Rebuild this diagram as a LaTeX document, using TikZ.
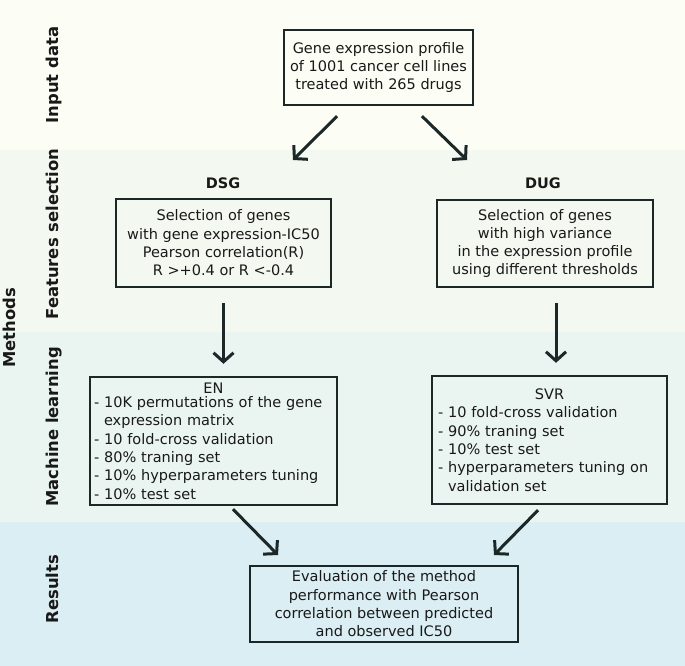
\documentclass[tikz,border=0pt]{standalone}
\usepackage{xcolor}
\usepackage{fontspec}
\setmainfont{DejaVu Sans}
\newfontfamily\headfont{DejaVu Sans}
\usepackage{tikz}
\usetikzlibrary{positioning, arrows.meta, calc}

\definecolor{inputbg}{RGB}{252,253,244}
\definecolor{featbg}{RGB}{243,249,240}
\definecolor{mlbg}{RGB}{234,245,241}
\definecolor{resbg}{RGB}{218,238,243}
\definecolor{dark}{RGB}{28,40,40}
\definecolor{ink}{RGB}{25,25,25}

\begin{document}
\begin{tikzpicture}[x=1pt, y=-1pt,
		box/.style={draw=dark, line width=2.4pt, inner sep=0pt, align=center, text=ink,
			font=\fontsize{14.5}{18.3}\selectfont},
		head/.style={font=\headfont\bfseries\fontsize{14.5}{16}\selectfont, text=ink},
		side/.style={font=\headfont\bfseries\fontsize{16.4}{18}\selectfont, rotate=90, anchor=base, text=ink},
		arr/.style={draw=dark, line width=3pt, -{Straight Barb[length=9pt,width=20pt]}}]
		
		\useasboundingbox (0,0) rectangle (685,666);
		
		%% bands
		\foreach \ya/\yb/\col in {0/150/inputbg, 150/332/featbg, 332/522/mlbg, 522/666/resbg}
		\fill[\col] (0,\ya) rectangle (685,\yb);
		
		\node[side] (inlabel) at (58,75) {Input data};
		\node[side] (featlabel) at (58,234) {Features selection};
		\node[side] (mllabel) at (58,427) {Machine learning};
		\node[side] (reslabel) at (58,589) {Results};
		\node[side] (methlabel) at (15,328) {Methods};
		
		\node[box, minimum width=189pt, minimum height=75pt] (input) at (378.5,67.5)
		{Gene expression profile\\of 1001 cancer cell lines\\treated with 265 drugs};
		
		\node[head] (dsglabel) at (223,183) {DSG};
		\node[box, minimum width=215pt, minimum height=88pt] (dsg) at (223.5,243)
		{Selection of genes\\with gene expression-IC50\\Pearson correlation(R)\\R >+0.4 or R <-0.4};
		
		\node[head] (duglabel) at (543,183) {DUG};
		\node[box, minimum width=216pt, minimum height=87pt] (dug) at (545,243.5)
		{Selection of genes\\with high variance\\in the expression profile\\using different thresholds};
		
		\node[box, minimum width=247pt, minimum height=128pt, text width=239pt, align=left] (en) at (213.5,441)
		{\makebox[\linewidth]{EN}\\[-4pt]
			- 10K permutations of the gene\\
			\phantom{- }expression matrix\\
			- 10 fold-cross validation\\
			- 80\% traning set\\
			- 10\% hyperparameters tuning\\
			- 10\% test set};
		
		\node[box, minimum width=235pt, minimum height=128pt, text width=223pt, align=left] (svr) at (549.5,440)
		{\makebox[\linewidth]{SVR}\\
			- 10 fold-cross validation\\
			- 90\% traning set\\
			- 10\% test set\\
			- hyperparameters tuning on\\
			\phantom{- }validation set};
		
		\node[box, minimum width=268pt, minimum height=76pt] (result) at (384,604)
		{Evaluation of the method\\performance with Pearson\\correlation between predicted\\and observed IC50};
		
		\coordinate (ltip) at (293,160);
		\coordinate (rtip) at (467,160);
		\coordinate (entip) at (278,555);
		\coordinate (svrtip) at (494,555);
		
		\draw[arr] ([xshift=-41.5pt,yshift=-10pt]input.south) -- (ltip);
		\draw[arr] ([xshift=43.5pt,yshift=-10pt]input.south) -- (rtip);
		
		\draw[arr] ([yshift=-15pt]dsg.south) -- ([yshift=12pt]dsg.south |- en.north);
		\draw[arr] ([xshift=11pt,yshift=-15pt]dug.south) -- ([xshift=11pt,yshift=12pt]dug.south |- svr.north);
		
		\draw[arr] ([xshift=19.5pt,yshift=-3pt]en.south) -- (entip);
		\draw[arr] ([xshift=-11.5pt,yshift=-5pt]svr.south) -- (svrtip);
		
\end{tikzpicture}
\end{document}
